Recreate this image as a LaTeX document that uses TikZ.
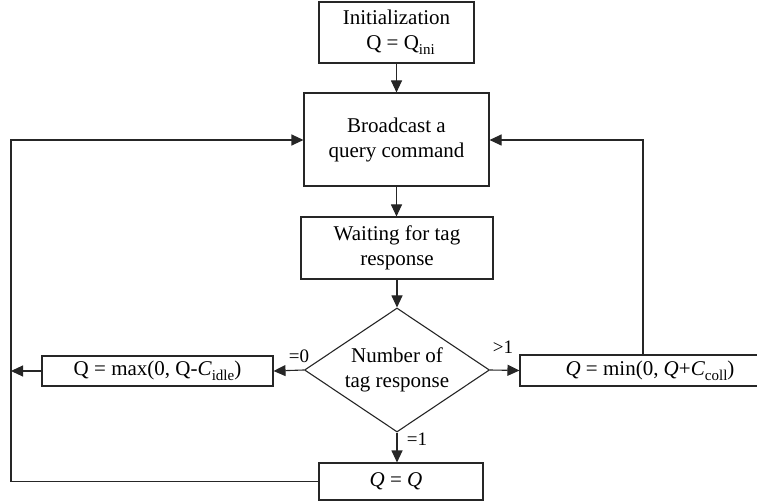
\documentclass[tikz,border=0pt]{standalone}
\usepackage{fontspec}
\setmainfont{Liberation Serif}
\usetikzlibrary{shapes.geometric,arrows.meta}
\newcommand\subtx[1]{\raisebox{-5pt}{\fontsize{15}{15}\selectfont #1}}
\begin{document}
\begin{tikzpicture}[x=1pt,y=-1pt,
  line width=1.1pt,
  box/.style={draw=black!85, line width=1.1pt, inner sep=0pt, align=center,
    font=\fontsize{21}{25}\selectfont, text=black},
  dia/.style={box, shape=diamond, aspect=1.5},
  arr/.style={draw=black!85, -{Triangle[length=12pt,width=11pt]}},
  lab/.style={inner sep=0pt, font=\fontsize{19}{22}\selectfont, text=black}]
\useasboundingbox (0,0) rectangle (757,502);
\clip (0,0) rectangle (757,502);

\node[box, minimum width=155pt, minimum height=61pt] (init) at (396.5,32.5)
  {Initialization\\ \hspace*{8pt}Q = Q\subtx{ini}};
\node[box, minimum width=185pt, minimum height=93pt] (bc) at (396.5,139.5)
  {Broadcast a\\ query command};
\node[box, minimum width=192pt, minimum height=62pt] (wait) at (397,248)
  {Waiting for tag\\ response};
\node[dia, minimum width=185pt, minimum height=124pt] (num) at (397,370)
  {Number of\\ tag response};
\node[box, minimum width=231pt, minimum height=30pt] (left) at (157.5,371)
  {Q = max(0, Q-\textit{C}\subtx{idle})};
\node[box, minimum width=260pt, minimum height=31pt] (right) at (650,370.5)
  {\textit{Q} = min(0, \textit{Q}+\textit{C}\subtx{coll})};
\node[box, minimum width=164pt, minimum height=37pt] (bot) at (401,481.5)
  {\textit{Q} = \textit{Q}\hspace*{10pt}};

\coordinate (lout) at (11,371);
\coordinate (lcorner) at (11,140);
\coordinate (rcorner) at (643,140);

\draw[arr] (init) -- (bc);
\draw[arr] (bc.south) -- (bc.south |- wait.north);
\draw[arr] (wait.south -| num.north) -- (num.north);
\draw[arr] (num.west) -- (left.east);
\draw[arr] (num.east) -- (right.west);
\draw[arr] (num.south) -- (num.south |- bot.north);
\draw[arr] (left.west) -- (lout);
\draw[arr] (bot.west) -| (lcorner) -- (bc.west |- lcorner);
\draw[arr] (right.north -| rcorner) -- (rcorner) -- (bc.east |- rcorner);

\node[lab] (l0) at (299,356) {=0};
\node[lab] (l2) at (503,347) {>1};
\node[lab] (l1) at (417,439) {=1};
\end{tikzpicture}
\end{document}
